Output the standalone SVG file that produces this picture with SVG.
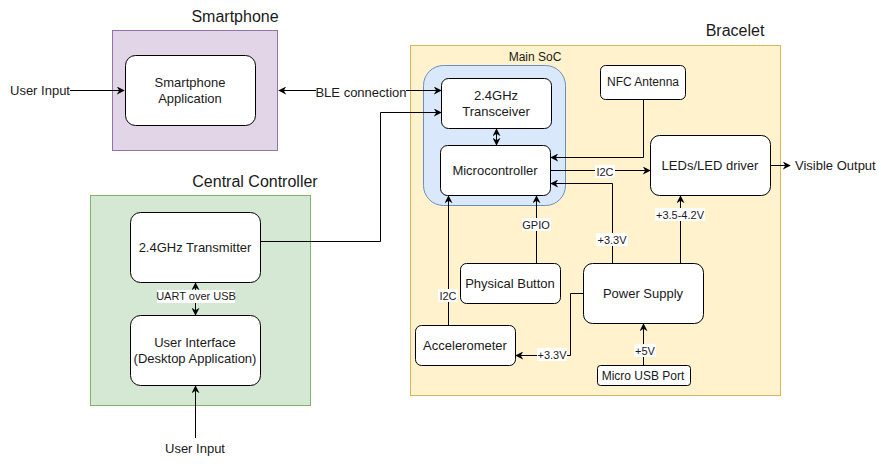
<svg xmlns="http://www.w3.org/2000/svg" width="881" height="464" viewBox="0 0 881 464">
<defs>
<marker id="arr" viewBox="0 0 10 10" refX="9" refY="5" markerWidth="8" markerHeight="8" orient="auto-start-reverse" markerUnits="userSpaceOnUse">
<path d="M0,0 L10,5 L0,10 L3,5 Z" fill="#000"/>
</marker>
<style>
text{font-family:"Liberation Sans",Arial,sans-serif;fill:#1a1a1a;}
.t16{font-size:16px;text-anchor:middle;}
.t13{font-size:13px;text-anchor:middle;}
.t12{font-size:12px;text-anchor:middle;}
.t11{font-size:11px;text-anchor:middle;}
.node{fill:#fff;stroke:#000;stroke-width:1;}
.e{fill:none;stroke:#000;stroke-width:1;}
.lb{fill:#fff;}
</style>
</defs>
<rect width="881" height="464" fill="#fff"/>

<g id="containers">
<g id="smartphone">
<rect x="112.5" y="30.5" width="165" height="120" fill="#e1d5e7" stroke="#9673a6"/>
<text class="t16" x="235" y="22">Smartphone</text>
</g>
<g id="bracelet">
<rect x="410.5" y="45.5" width="370" height="350" fill="#fff2cc" stroke="#d6b656"/>
<text class="t16" x="735" y="36">Bracelet</text>
</g>
<g id="central-controller">
<rect x="90.5" y="195.5" width="220" height="210" fill="#d5e8d4" stroke="#82b366"/>
<text class="t16" x="255" y="187">Central Controller</text>
</g>
<g id="main-soc">
<rect x="423.5" y="65.5" width="142" height="140" rx="20" fill="#dae8fc" stroke="#6c8ebf"/>
<text class="t12" x="535" y="61">Main SoC</text>
</g>
</g>

<g id="connectors">
<path class="e" d="M70,90.5 H124" marker-end="url(#arr)"/>
<path class="e" d="M279,90.5 H441" marker-start="url(#arr)" marker-end="url(#arr)"/>
<path class="e" d="M261,241.5 H380.5 V112.5 H441" marker-end="url(#arr)"/>
<path class="e" d="M496.5,129 V145" marker-start="url(#arr)" marker-end="url(#arr)"/>
<path class="e" d="M643.5,99 V157.5 H551" marker-end="url(#arr)"/>
<path class="e" d="M551,170.5 H650" marker-end="url(#arr)"/>
<path class="e" d="M770,165.5 H790" marker-end="url(#arr)"/>
<path class="e" d="M612.5,263 V183.5 H551" marker-end="url(#arr)"/>
<path class="e" d="M680.5,263 V196" marker-end="url(#arr)"/>
<path class="e" d="M643.5,365 V324" marker-end="url(#arr)"/>
<path class="e" d="M536.5,263 V196" marker-end="url(#arr)"/>
<path class="e" d="M448.5,325 V196" marker-end="url(#arr)"/>
<path class="e" d="M583,293.5 H570.5 V355.5 H516" marker-end="url(#arr)"/>
<path class="e" d="M195.5,283 V315" marker-start="url(#arr)" marker-end="url(#arr)"/>
<path class="e" d="M195.5,438 V386" marker-end="url(#arr)"/>
</g>

<g id="edge-labels">
<rect class="lb" x="316" y="83" width="90" height="16"/>
<text class="t13" x="361" y="97">BLE connection</text>
<rect class="lb" x="595" y="165" width="20" height="13"/>
<text class="t11" x="605" y="176">I2C</text>
<rect class="lb" x="596" y="233" width="32" height="13"/>
<text class="t11" x="612" y="244">+3.3V</text>
<rect class="lb" x="655" y="208" width="50" height="13"/>
<text class="t11" x="680" y="219">+3.5-4.2V</text>
<rect class="lb" x="634" y="344" width="22" height="13"/>
<text class="t11" x="645" y="355">+5V</text>
<rect class="lb" x="522" y="218" width="29" height="13"/>
<text class="t11" x="536" y="229">GPIO</text>
<rect class="lb" x="438" y="289" width="20" height="13"/>
<text class="t11" x="448" y="300">I2C</text>
<rect class="lb" x="537" y="348" width="30" height="13"/>
<text class="t11" x="552" y="359">+3.3V</text>
<rect class="lb" x="157" y="290" width="78" height="13"/>
<text class="t11" x="196" y="300">UART over USB</text>
</g>

<g id="smartphone-app">
<rect class="node" x="125.5" y="55.5" width="130" height="70" rx="10"/>
<text class="t13" x="190" y="87">Smartphone</text>
<text class="t13" x="190" y="103">Application</text>
</g>
<g id="transceiver">
<rect class="node" x="441.5" y="78.5" width="110" height="50" rx="7"/>
<text class="t13" x="496" y="100">2.4GHz</text>
<text class="t13" x="496" y="116">Transceiver</text>
</g>
<g id="microcontroller">
<rect class="node" x="440.5" y="145.5" width="110" height="50" rx="7"/>
<text class="t13" x="495" y="175">Microcontroller</text>
</g>
<g id="nfc-antenna">
<rect class="node" x="600.5" y="65.5" width="85" height="34" rx="5"/>
<text class="t12" x="643" y="86">NFC Antenna</text>
</g>
<g id="led-driver">
<rect class="node" x="650.5" y="135.5" width="120" height="60" rx="9"/>
<text class="t13" x="710" y="170">LEDs/LED driver</text>
</g>
<g id="power-supply">
<rect class="node" x="583.5" y="263.5" width="120" height="60" rx="9"/>
<text class="t13" x="643" y="298">Power Supply</text>
</g>
<g id="micro-usb">
<rect class="node" x="597.5" y="365.5" width="93" height="20" rx="3"/>
<text class="t12" x="643" y="380">Micro USB Port</text>
</g>
<g id="physical-button">
<rect class="node" x="460.5" y="263.5" width="100" height="40" rx="6"/>
<text class="t13" x="510" y="288">Physical Button</text>
</g>
<g id="accelerometer">
<rect class="node" x="415.5" y="325.5" width="100" height="40" rx="6"/>
<text class="t13" x="465" y="350">Accelerometer</text>
</g>
<g id="transmitter">
<rect class="node" x="130.5" y="212.5" width="130" height="70" rx="10"/>
<text class="t13" x="195" y="252">2.4GHz Transmitter</text>
</g>
<g id="user-interface">
<rect class="node" x="130.5" y="315.5" width="130" height="70" rx="10"/>
<text class="t13" x="195" y="347">User Interface</text>
<text class="t13" x="195" y="363">(Desktop Application)</text>
</g>

<g id="free-texts">
<text class="t13" x="40" y="95">User Input</text>
<text class="t13" x="195" y="453">User Input</text>
<text x="795" y="170" style="font-size:13px;">Visible Output</text>
</g>
</svg>
